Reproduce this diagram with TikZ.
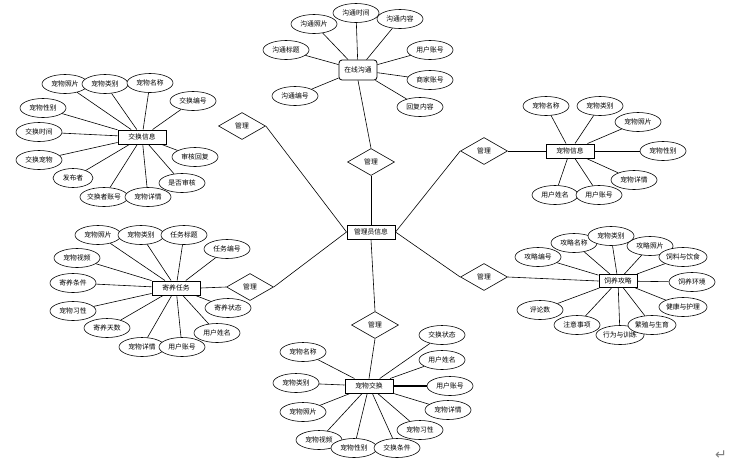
\documentclass[tikz,border=0pt]{standalone}
\usepackage{fontspec}
\setmainfont{Noto Sans CJK SC}
\newfontfamily\symfont{DejaVu Sans}
\usetikzlibrary{shapes.geometric, positioning}

\tikzset{
  attr/.style={draw, ellipse, fill=white, line width=0.6pt, minimum width=46pt, minimum height=19pt, inner sep=0pt},
  entity/.style={draw, rectangle, fill=white, line width=1pt, minimum width=48pt, minimum height=14pt, inner sep=1pt},
  rel/.style={draw, diamond, fill=white, line width=0.6pt, minimum width=47pt, minimum height=27pt, inner sep=0pt},
  link/.style={line width=0.6pt},
}

\begin{document}
\begin{tikzpicture}[x=1pt, y=-1pt, font=\fontsize{6.8}{8}\selectfont]
    \useasboundingbox (0,0) rectangle (735,464);

    % admin and the six relations
    \node[entity] (admin) at (371,232) {管理员信息};
    \node[rel] (mgA) at (242,126) {管理};
    \node[rel] (mgB) at (371,162) {管理};
    \node[rel] (mgC) at (484,151) {管理};
    \node[rel] (mgD) at (250,287) {管理};
    \node[rel] (mgE) at (484,277) {管理};
    \node[rel] (mgF) at (375,325) {管理};

    % entities
    \node[entity] (jhxx) at (142,137) {交换信息};
    \node[entity, line width=0.8pt, rounded corners=3pt, minimum width=38pt, minimum height=20pt] (zxgt) at (358,70) {在线沟通};
    \node[entity] (cwxx) at (570,151) {宠物信息};
    \node[entity] (jyrw) at (176,288) {寄养任务};
    \node[entity, minimum width=38pt, minimum height=13pt] (sygl) at (618,281) {饲养攻略};
    \node[entity] (cwjh) at (369,386) {宠物交换};

    \draw[link] (admin.west) -- (mgA.east);
    \draw[link] (admin.north) -- (mgB.south);
    \draw[link] (mgB.north) -- (zxgt.south);
    \draw[link] (admin.east) -- (mgC.west);
    \draw[link] (mgC.east) -- (cwxx.west);
    \draw[link] (admin.west) -- (mgD.east);
    \draw[link] (mgD.west) -- (jyrw.east);
    \draw[link] (admin.east) -- (mgE.west);
    \draw[link] (mgE.east) -- (sygl.west);
    \draw[link] (admin.south) -- (mgF.north);
    \draw[link] (mgF.south) -- (cwjh.north);

    % 交换信息
    \foreach \n/\x/\y/\t in {jx1/65/84/宠物照片, jx2/105/84/宠物类别, jx3/150/83/宠物名称,
        jx4/193/101/交换编号, jx5/43/108/宠物性别, jx6/39/132/交换时间, jx7/39/160/交换宠物,
        jx9/104/197/交换者账号, jx10/148/197/宠物详情, jx11/182/183/是否审核, jx12/195/157/审核回复} {
        \node[attr] (\n) at (\x,\y) {\t};
        \draw[link] (jhxx) -- (\n);
    }
    \node[attr, minimum width=40pt] (jx8) at (73,178) {发布者};
    \draw[link] (jhxx) -- (jx8);

    % 在线沟通
    \foreach \n/\x/\y/\t in {gt1/314/24/沟通照片, gt2/356/13/沟通时间, gt3/400/19/沟通内容,
        gt4/286/50/沟通标题, gt5/295/96/沟通编号, gt6/430/50/用户账号, gt7/430/80/商家账号,
        gt8/420/107/回复内容} {
        \node[attr] (\n) at (\x,\y) {\t};
        \draw[link] (zxgt) -- (\n);
    }

    % 宠物信息
    \foreach \n/\x/\y/\t in {xx1/546/106/宠物名称, xx2/600/106/宠物类别, xx3/638/122/宠物照片,
        xx4/663/151/宠物性别, xx5/634/180/宠物详情, xx6/555/195/用户姓名, xx7/599/195/用户账号} {
        \node[attr] (\n) at (\x,\y) {\t};
        \draw[link] (cwxx) -- (\n);
    }

    % 寄养任务
    \foreach \n/\x/\y/\t in {jy1/98/235/宠物照片, jy2/141/235/宠物类别, jy3/184/235/任务标题,
        jy4/227/249/任务编号, jy5/77/258/宠物视频, jy6/73/283/寄养条件, jy7/73/311/宠物习性,
        jy8/107/328/寄养天数, jy9/142/347/宠物详情, jy10/182/347/用户账号, jy11/217/333/用户姓名,
        jy12/228/308/寄养状态} {
        \node[attr] (\n) at (\x,\y) {\t};
        \draw[link] (jyrw) -- (\n);
    }

    % 饲养攻略
    \foreach \n/\x/\y/\t in {sy1/538/257/攻略编号, sy2/574/243/攻略名称, sy4/650/246/攻略照片,
        sy3/611/236/宠物类别, sy5/683/257/饲料与饮食, sy6/692/282/饲养环境, sy7/683/307/健康与护理,
        sy10/577/325/注意事项, sy9/620/335/行为与训练, sy8/652/325/繁殖与生育, sy11/540/310/评论数} {
        \node[attr] (\n) at (\x,\y) {\t};
        \draw[link] (sygl) -- (\n);
    }

    % 宠物交换
    \foreach \n/\x/\y/\t in {hx1/442/335/交换状态, hx2/442/360/用户姓名, hx4/448/410/宠物详情,
        hx5/420/430/宠物习性, hx6/303/352/宠物名称, hx7/296/383/宠物类别, hx8/303/412/宠物照片,
        hx9/319/440/宠物视频, hx10/354/448/宠物性别, hx11/397/448/交换条件} {
        \node[attr] (\n) at (\x,\y) {\t};
        \draw[link] (cwjh) -- (\n);
    }
    \node[attr] (hx3) at (450,386) {用户账号};
    \draw[line width=1.2pt] (cwjh) -- (hx3);

    \node[text=gray, font=\symfont\fontsize{14}{15}\selectfont] (ret) at (721,455) {↵};
\end{tikzpicture}
\end{document}
